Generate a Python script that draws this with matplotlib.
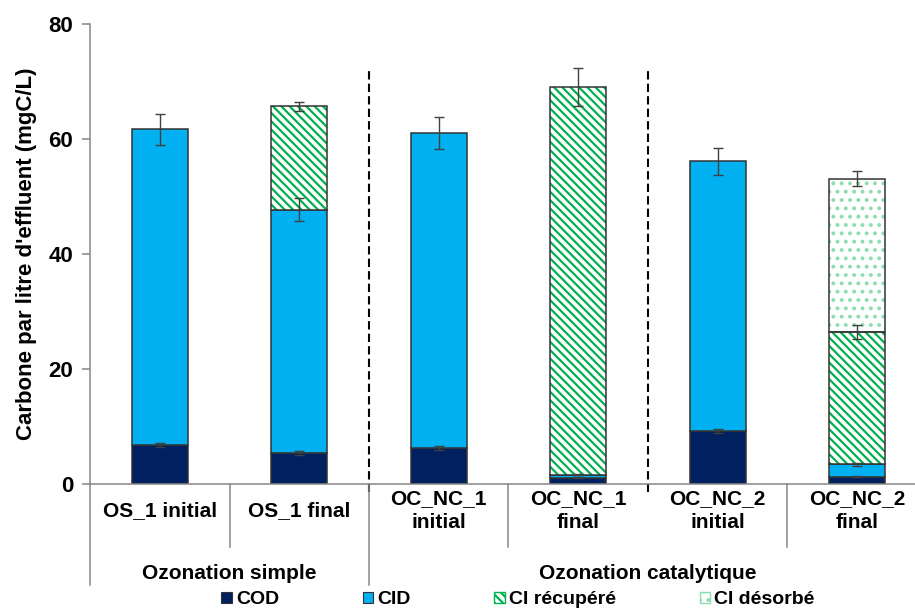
import matplotlib
matplotlib.use("Agg")
import matplotlib.pyplot as plt
from matplotlib.patches import Patch
import numpy as np

plt.rcParams['font.family'] = ['Liberation Sans', 'DejaVu Sans']
plt.rcParams['font.weight'] = 'bold'
plt.rcParams['hatch.linewidth'] = 1.6

# data (mgC/L), stacked segment heights
categories = ["OS_1 initial", "OS_1 final", "OC_NC_1\ninitial", "OC_NC_1\nfinal",
              "OC_NC_2\ninitial", "OC_NC_2\nfinal"]
groups = ["Ozonation simple", "Ozonation catalytique"]
cod = [6.8, 5.4, 6.3, 1.1, 9.2, 1.3]
cid = [54.9, 42.3, 54.8, 0.5, 46.9, 2.1]
ci_rec = [0.0, 18.0, 0.0, 67.4, 0.0, 23.0]
ci_des = [0.0, 0.0, 0.0, 0.0, 0.0, 26.7]
cod_err = [0.3, 0.3, 0.3, 0.1, 0.4, 0.1]
cid_err = [2.7, 2.0, 2.8, 0.1, 2.3, 0.2]
rec_err = [0.0, 0.8, 0.0, 3.3, 0.0, 1.2]
des_err = [0.0, 0.0, 0.0, 0.0, 0.0, 1.3]

c_cod = "#002060"
c_cid = "#00B0F0"
c_green = "#00B050"
c_dots = "#8EDDB2"
c_edge = "#333333"
c_axis = "#868686"

fig = plt.figure(figsize=(9.15, 6.1), dpi=100)
ax = fig.add_axes([90 / 915, 126 / 610, 837 / 915, 460 / 610])

x = np.arange(len(categories))
w = 0.4
segs = [np.array(cod), np.array(cid), np.array(ci_rec), np.array(ci_des)]
errs = [cod_err, cid_err, rec_err, des_err]
bottom = np.zeros(len(x))
for i, h in enumerate(segs):
    m = h > 0
    if i == 0:
        ax.bar(x[m], h[m], w, bottom=bottom[m], color=c_cod, edgecolor=c_edge, lw=1.1, zorder=2)
    elif i == 1:
        ax.bar(x[m], h[m], w, bottom=bottom[m], color=c_cid, edgecolor=c_edge, lw=1.1, zorder=2)
    elif i == 2:
        ax.bar(x[m], h[m], w, bottom=bottom[m], color="white", edgecolor=c_green,
               hatch="\\\\\\\\", lw=0, zorder=2)
        ax.bar(x[m], h[m], w, bottom=bottom[m], fill=False, edgecolor=c_edge, lw=1.1, zorder=3)
    else:
        ax.bar(x[m], h[m], w, bottom=bottom[m], color="white", edgecolor=c_dots,
               hatch="..", lw=0, zorder=2)
        ax.bar(x[m], h[m], w, bottom=bottom[m], fill=False, edgecolor=c_edge, lw=1.1, zorder=3)
    bottom = bottom + h
    ax.errorbar(x[m], bottom[m], yerr=np.array(errs[i])[m], fmt="none", ecolor="#404040",
                elinewidth=1, capsize=3.5, capthick=1, zorder=4)

# dashed separators between series
for xs in [1.5, 3.5]:
    ax.plot([xs, xs], [-1.4, 72.5], color="black", lw=1.5, ls=(0, (4, 2)), clip_on=False, zorder=1)

ax.set_xlim(-0.5, 5.5)
ax.set_ylim(0, 80)
ax.set_yticks([0, 20, 40, 60, 80])
ax.tick_params(axis="y", labelsize=16, length=6, width=1.1, color=c_axis, pad=6)
ax.tick_params(axis="x", bottom=False, labelbottom=False)
for s in ["top", "right"]:
    ax.spines[s].set_visible(False)
for s in ["left", "bottom"]:
    ax.spines[s].set_color(c_axis)
    ax.spines[s].set_linewidth(1.1)
ax.set_ylabel("Carbone par litre d'effluent (mgC/L)", fontsize=16, fontweight="bold", labelpad=8)

# two-level category axis
trans = ax.get_xaxis_transform()
for xi, lab in zip(x, categories):
    ax.text(xi, -0.057, lab, transform=trans, ha="center", va="center", fontsize=15,
            fontweight="bold", linespacing=1.35)
for xs in [0.5, 2.5, 4.5]:
    ax.plot([xs, xs], [0, -0.137], transform=trans, color=c_axis, lw=1.1, clip_on=False)
for xs in [-0.5, 1.5]:
    ax.plot([xs, xs], [0, -0.22], transform=trans, color=c_axis, lw=1.1, clip_on=False)
ax.text(0.5, -0.194, groups[0], transform=trans, ha="center", va="center", fontsize=15, fontweight="bold")
ax.text(3.5, -0.194, groups[1], transform=trans, ha="center", va="center", fontsize=15, fontweight="bold")

handles = [
    Patch(facecolor=c_cod, edgecolor=c_edge, lw=0.8, label="COD"),
    Patch(facecolor=c_cid, edgecolor=c_edge, lw=0.8, label="CID"),
    Patch(facecolor="white", edgecolor=c_green, hatch="\\\\\\\\", label="CI récupéré"),
    Patch(facecolor="white", edgecolor=c_dots, hatch="..", label="CI désorbé"),
]
fig.legend(handles=handles, loc="center", bbox_to_anchor=(518 / 915, 10 / 610), ncol=4,
           frameon=False, fontsize=14, handlelength=0.55, handleheight=0.55,
           handletextpad=0.2, columnspacing=4.3, borderpad=0)

fig.savefig("out.png", dpi=100)
